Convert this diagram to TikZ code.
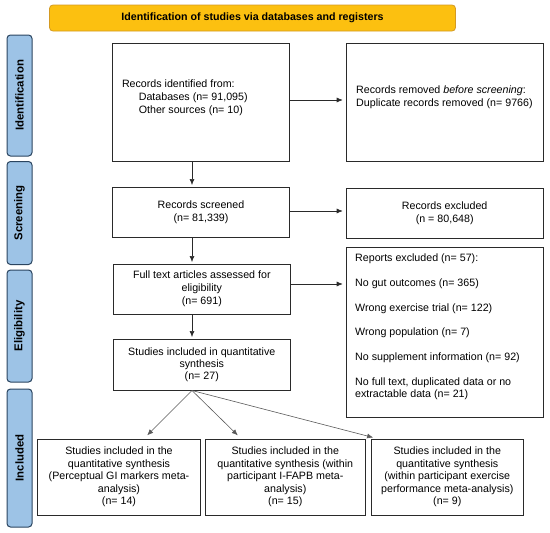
\documentclass[tikz,border=0pt]{standalone}
\usepackage{fontspec}
\setmainfont{Liberation Sans}
\usetikzlibrary{arrows.meta}
\definecolor{bannerfill}{HTML}{FCC010}
\definecolor{bannerdraw}{HTML}{D49A22}
\definecolor{barfill}{HTML}{9DC3E6}
\definecolor{bardraw}{HTML}{2B4560}
\definecolor{linegray}{HTML}{2A2A2A}
\begin{document}
\begin{tikzpicture}[x=1pt,y=-1pt,
  box/.style={draw=linegray, line width=1pt, inner sep=0pt, font=\fontsize{10.67}{12.4}\selectfont, align=center},
  txt/.style={inner sep=0pt, font=\fontsize{10.67}{12.6}\selectfont, align=left},
  bar/.style={draw=bardraw, fill=barfill, rounded corners=3.5pt, line width=1pt, rotate=90, inner sep=0pt, minimum height=25pt, font=\bfseries\fontsize{11.4}{13}\selectfont},
  arr/.style={-{Latex[length=6pt,width=5pt]}, line width=0.6pt, draw=linegray},
  darr/.style={-{Latex[length=6pt,width=5pt]}, line width=0.6pt, draw=black!65}]
\useasboundingbox (0,0) rectangle (550,533);

% banner
\node[draw=bannerdraw, fill=bannerfill, rounded corners=3.5pt, line width=0.8pt, minimum width=406pt, minimum height=26pt, inner sep=0pt, font=\bfseries\fontsize{10.65}{12}\selectfont] (banner) at (252.5,18) {Identification of studies via databases and registers};

% side bars
\node[bar, minimum width=121pt] (bident) at (19.5,95.5) {Identification};
\node[bar, minimum width=103pt] (bscreen) at (19.5,213) {Screening};
\node[bar, minimum width=112pt] (belig) at (19.5,326) {Eligibility};
\node[bar, minimum width=138pt] (bincl) at (19.5,458) {Included};

% boxes
\node[box, minimum width=177pt, minimum height=118pt] (rid) at (201,102) {};
\node[txt, anchor=west] (ridtext) at (121.8,97.7) {Records identified from:\\\hspace*{16.8pt}Databases (n= 91,095)\\\hspace*{16.8pt}Other sources (n= 10)};

\node[box, minimum width=197pt, minimum height=118pt] (rem) at (444.7,102) {};
\node[txt, anchor=west, font=\fontsize{10.67}{13.3}\selectfont] (remtext) at (356,97) {Records removed \textit{before screening}:\\Duplicate records removed (n= 9766)};

\node[box, minimum width=177pt, minimum height=50pt, font=\fontsize{10.67}{13.2}\selectfont] (scr) at (201,212) {Records screened\\(n= 81,339)};
\node[box, minimum width=197pt, minimum height=50pt, font=\fontsize{10.67}{13.2}\selectfont] (exc) at (444.7,213) {Records excluded\\(n = 80,648)};

\node[box, minimum width=177.5pt, minimum height=50pt, font=\fontsize{10.67}{13.2}\selectfont] (full) at (201.8,289) {Full text articles assessed for\\eligibility\\(n= 691)};
\node[box, minimum width=197pt, minimum height=170pt] (rep) at (444.7,332) {};
\node[txt, anchor=north west, font=\fontsize{10.67}{12.3}\selectfont] (reptext) at (355,254) {Reports excluded (n= 57):\\[12.5pt]No gut outcomes (n= 365)\\[12.5pt]Wrong exercise trial (n= 122)\\[11.8pt]Wrong population (n= 7)\\[12.5pt]No supplement information (n= 92)\\[12.5pt]No full text, duplicated data or no\\extractable data (n= 21)};

\node[box, minimum width=177.5pt, minimum height=51pt, font=\fontsize{10.67}{12.2}\selectfont] (stu) at (201.8,364.5) {Studies included in quantitative\\synthesis\\(n= 27)};

\node[box, minimum width=163.4pt, minimum height=76pt] (ba) at (119,477) {Studies included in the\\quantitative synthesis\\(Perceptual GI markers meta-\\analysis)\\(n= 14)};
\node[box, minimum width=159.5pt, minimum height=76pt] (bb) at (285.3,477) {Studies included in the\\quantitative synthesis (within\\participant I-FAPB meta-\\analysis)\\(n= 15)};
\node[box, minimum width=152.5pt, minimum height=76pt] (bc) at (447.3,477) {Studies included in the\\quantitative synthesis\\(within participant exercise\\performance meta-analysis)\\(n= 9)};

% helper coordinates
\coordinate (ax) at (192,0);
\coordinate (ta) at (144,0);
\coordinate (tb) at (241,0);
\coordinate (tc) at (377,0);

% vertical arrows
\draw[arr, shorten >=1.5pt] (rid.south -| ax) -- (scr.north -| ax);
\draw[arr, shorten >=1.5pt] (scr.south -| ax) -- (full.north -| ax);
\draw[arr, shorten >=1.5pt] (full.south -| ax) -- (stu.north -| ax);

% horizontal arrows
\draw[arr, shorten >=3pt] ([yshift=2pt]rid.east) -- ([yshift=2pt]rid.east -| rem.west);
\draw[arr, shorten >=3pt] ([yshift=1pt]scr.east) -- ([yshift=1pt]scr.east -| exc.west);
\draw[arr, shorten >=3pt] ([yshift=5pt]full.east) -- ([yshift=5pt]full.east -| rep.west);

% diagonal arrows
\draw[darr, shorten >=4.5pt] (stu.south -| ax) -- (ba.north -| ta);
\draw[darr, shorten >=4.5pt] (stu.south -| ax) -- (bb.north -| tb);
\draw[darr, shorten >=4pt] (stu.south -| ax) -- (bc.north -| tc);
\end{tikzpicture}
\end{document}
